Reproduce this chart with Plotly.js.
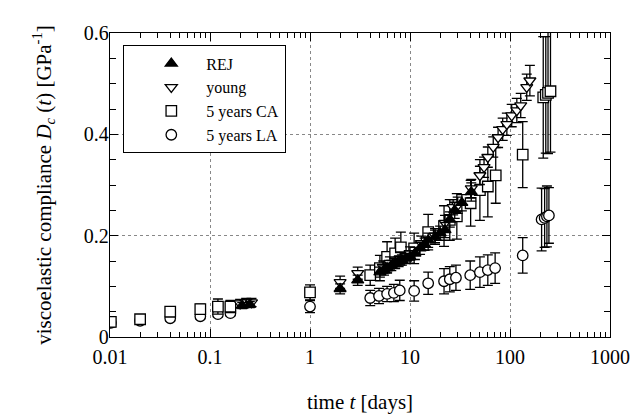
<!DOCTYPE html>
<html><head><meta charset="utf-8">
<script src="https://cdn.plot.ly/plotly-3.0.1.min.js"></script>
<style>html,body{margin:0;padding:0;background:#fff}#chart{width:632px;height:414px}</style>
</head><body><div id="chart"></div>
<script>
// REJ (filled up triangles)
const rejT = [0.21,0.25,2,3,5.0,5.5,5.9,6.5,7.1,7.7,8.3,9.1,10,11.2,12.6,14,15.2,17.8,20,22.4,25,28,33,41];
const rejV = [0.062,0.064,0.095,0.112,0.128,0.132,0.136,0.141,0.146,0.149,0.152,0.155,0.158,0.165,0.175,0.183,0.191,0.197,0.205,0.211,0.232,0.25,0.265,0.286];
const rejE = [0.006,0.006,0.01,0.01,0.01,0.01,0.01,0.01,0.01,0.01,0.01,0.01,0.012,0.012,0.012,0.012,0.014,0.014,0.014,0.015,0.015,0.016,0.016,0.018];
// young (open down triangles)
const youngT = [0.2,0.23,0.26,2,3,5.4,6.3,8,10,13,17.8,22.4,27,30,41,50,55,60,68,76,84.5,93,104,117,128,147,158];
const youngV = [0.066,0.068,0.068,0.108,0.126,0.138,0.146,0.155,0.165,0.185,0.2,0.225,0.256,0.26,0.293,0.319,0.335,0.355,0.375,0.394,0.41,0.42,0.437,0.447,0.457,0.493,0.506];
const youngE = [0.008,0.008,0.008,0.012,0.012,0.012,0.012,0.013,0.013,0.014,0.014,0.015,0.015,0.016,0.018,0.018,0.02,0.02,0.02,0.02,0.022,0.022,0.022,0.024,0.024,0.026,0.03];
// 5 years CA (open squares)
const caT = [0.0102,0.02,0.04,0.08,0.12,0.16,1,4,5,5.9,7.1,8.1,11,15.2,21.9,25,29.4,40.4,50,60,72,134,215,228,240,254];
const caV = [0.03,0.035,0.05,0.055,0.06,0.06,0.088,0.122,0.136,0.158,0.165,0.177,0.175,0.207,0.219,0.231,0.238,0.264,0.29,0.297,0.319,0.36,0.473,0.478,0.482,0.485];
const caE = [0.01,0.008,0.01,0.01,0.015,0.012,0.015,0.02,0.025,0.03,0.03,0.03,0.03,0.035,0.04,0.04,0.045,0.045,0.06,0.06,0.055,0.065,0.12,0.115,0.12,0.12];
// 5 years LA (open circles)
const laT = [0.0102,0.02,0.04,0.08,0.12,0.16,1,4,4.9,5.9,6.9,7.9,11,15.2,21.9,25,28.8,40,50,60,71,134,207,222,234,245];
const laV = [0.028,0.032,0.037,0.041,0.045,0.047,0.06,0.077,0.081,0.085,0.087,0.092,0.091,0.106,0.11,0.114,0.117,0.122,0.128,0.132,0.136,0.161,0.232,0.235,0.238,0.24];
const laE = [0.005,0.005,0.005,0.005,0.005,0.005,0.012,0.015,0.015,0.015,0.017,0.02,0.02,0.022,0.025,0.025,0.025,0.028,0.03,0.03,0.03,0.035,0.062,0.058,0.06,0.055];

const xTickVals = [0.01,0.1,1,10,100,1000];
const xTickText = ['0.01','0.1','1','10','100','1000'];
const yTickVals = [0,0.2,0.4,0.6];
const yTickText = ['0','0.2','0.4','0.6'];
// minor log ticks: 2..9 within each decade
const minorDigits = [2,3,4,5,6,7,8,9];
const minorX = [];
xTickVals.slice(0, -1).forEach(d => minorDigits.forEach(m => minorX.push(d * m)));

const font = 'Liberation Serif';
function tr(name, t, v, e, symbol, fill){
  return {type:'scatter', mode:'markers', name:name, x:t, y:v,
    error_y:{type:'data', array:e, visible:true, color:'#000', thickness:1.3, width:5},
    marker:{symbol:symbol, size:10.5, color:fill, line:{color:'#000', width:1.3}}, cliponaxis:true};
}
const data = [
  tr('5 years LA', laT, laV, laE, 'circle', '#fff'),
  tr('5 years CA', caT, caV, caE, 'square', '#fff'),
  tr('young', youngT, youngV, youngE, 'triangle-down', '#fff'),
  tr('REJ', rejT, rejV, rejE, 'triangle-up', '#000')
];
const layout = {
  width:632, height:414, margin:{l:110, r:22, t:33, b:77},
  paper_bgcolor:'#fff', plot_bgcolor:'#fff', showlegend:true,
  font:{family:font, size:20, color:'#000'},
  xaxis:{type:'log', range:[-2,3], tickmode:'array', tickvals:xTickVals, ticktext:xTickText, ticks:'inside', ticklen:8,
    tickcolor:'#000', linecolor:'#000', linewidth:1.3, mirror:'ticks', showgrid:true, gridcolor:'#888', griddash:'dot', gridwidth:1,
    zeroline:false, tickfont:{family:font, size:20}, ticklabelstandoff:2,
    minor:{tickmode:'array', tickvals:minorX, ticks:'inside', ticklen:5, tickcolor:'#000', tickwidth:1, showgrid:false},
    title:{text:'time <i>t</i> [days]', font:{family:font, size:21}, standoff:32}},
  yaxis:{range:[0,0.6], tickvals:yTickVals, ticktext:yTickText, ticks:'inside', ticklen:8, tickcolor:'#000',
    linecolor:'#000', linewidth:1.3, mirror:'ticks', showgrid:true, gridcolor:'#888', griddash:'dot', zeroline:false,
    tickfont:{family:font, size:20}, ticklabelstandoff:-4,
    minor:{dtick:0.05, ticks:'inside', ticklen:6, tickcolor:'#000', showgrid:false},
    title:{text:'viscoelastic compliance <i>D</i><sub><i>c</i></sub> (<i>t</i>) [GPa<sup>-1</sup>]', font:{family:font, size:21}, standoff:26}},
  legend:{x:0.026, y:0.96, xanchor:'left', yanchor:'top', bordercolor:'#000', borderwidth:1.3, bgcolor:'#fff',
    traceorder:'reversed', font:{family:font, size:16}, itemwidth:60, indentation:12, tracegroupgap:0}
};
Plotly.newPlot('chart', data, layout, {staticPlot:true});
</script></body></html>
